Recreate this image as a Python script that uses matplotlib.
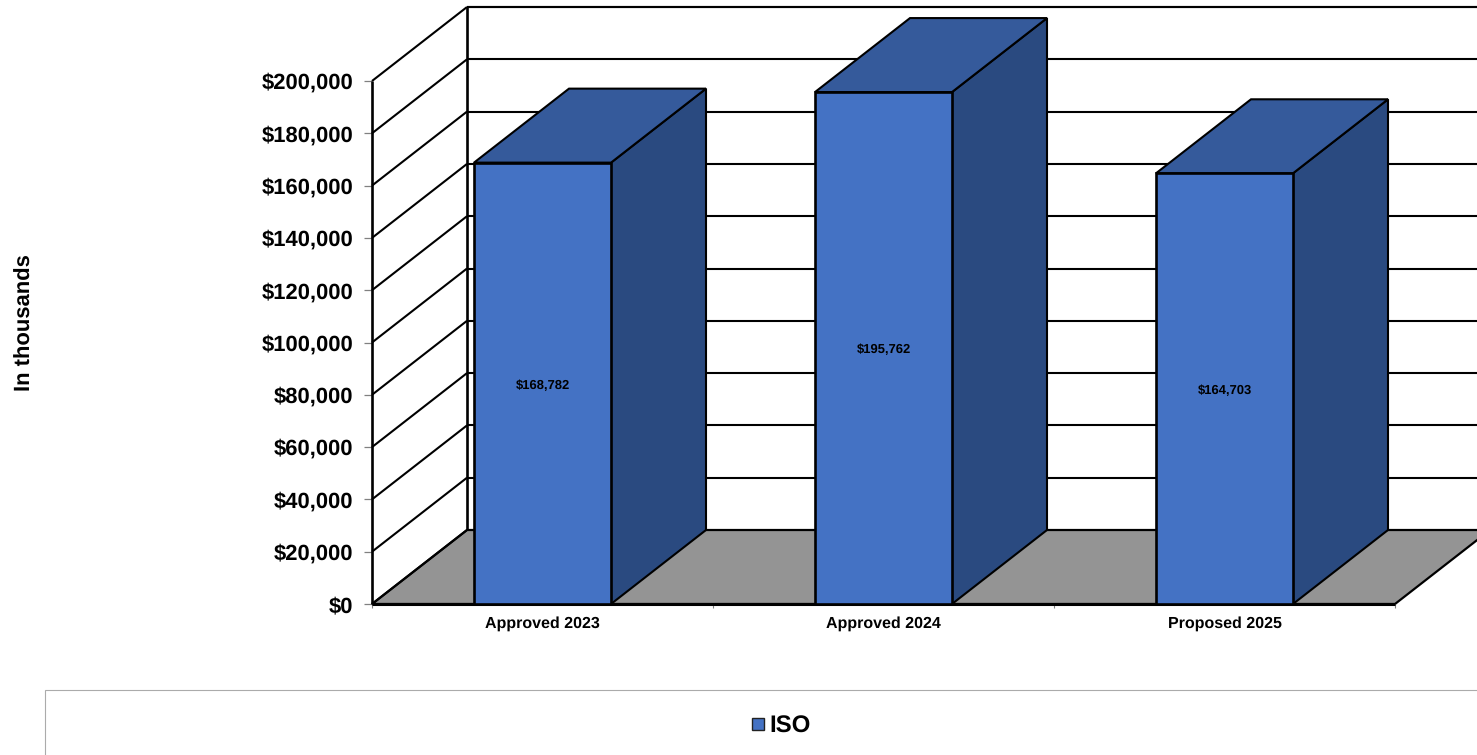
import matplotlib
matplotlib.use('Agg')
import matplotlib.pyplot as plt
from matplotlib.patches import Polygon, Rectangle

plt.rcParams['font.family'] = ['Liberation Sans', 'DejaVu Sans']
plt.rcParams['text.hinting'] = 'no_hinting'
plt.rcParams['text.hinting_factor'] = 1

categories = ['Approved 2023', 'Approved 2024', 'Proposed 2025']
values = [168782, 195762, 164703]
value_labels = ['$168,782', '$195,762', '$164,703']
y_ticks = [0, 20000, 40000, 60000, 80000, 100000, 120000, 140000, 160000, 180000, 200000]
series_name = 'ISO'

W, H = 1477, 755
FRONT = '#4472C4'
SIDE = '#2A4A80'
TOP = '#355A9B'
FLOOR = '#949494'

fig = plt.figure(figsize=(W / 100, H / 100), dpi=100)
# plot area in pixels: x 372..1395, y 81..604
ax = fig.add_axes([372 / W, 1 - 604 / H, (1395 - 372) / W, (604 - 81) / H])
ax.set_xlim(0, 3)
ax.set_ylim(0, 200000)
for s in ax.spines.values():
    s.set_visible(False)

# depth of the fake 3d box, in data units
dx = 95 / (1023 / 3)
dy = 74 / 523 * 200000
# the back wall runs off the right side of the figure
right = (1490 - 372) / (1023 / 3)
bar_w = 137 / (1023 / 3)
lw = 1.5


def poly(pts, fc, z, ec='black', w=lw):
    ax.add_patch(Polygon(pts, closed=True, facecolor=fc, edgecolor=ec, linewidth=w,
                         joinstyle='miter', clip_on=False, zorder=z))


def line(xs, ys, z=2, w=lw):
    ax.plot(xs, ys, color='black', linewidth=w, clip_on=False, zorder=z,
            solid_capstyle='butt')


# floor
poly([(0, 0), (3, 0), (3 + dx, dy), (dx, dy)], FLOOR, 1, w=1.6)

# wall grid, left diagonal then along the back
for t in y_ticks[1:]:
    line([0, dx], [t, t + dy])
    line([dx, right], [t + dy, t + dy])
line([0, dx], [0, dy])

# axis lines
line([0, 0], [0, 200000], z=3, w=1.9)
line([dx, dx], [dy, 200000 + dy], z=3, w=1.9)
line([dx, right], [200000 + dy, 200000 + dy])
line([0, 3], [0, 0], z=3, w=2.2)

# bars
for i, (v, lab) in enumerate(zip(values, value_labels)):
    x0 = i + 0.5 - bar_w / 2
    x1 = x0 + bar_w
    poly([(x1, 0), (x1 + dx, dy), (x1 + dx, v + dy), (x1, v)], SIDE, 4)
    poly([(x0, v), (x1, v), (x1 + dx, v + dy), (x0 + dx, v + dy)], TOP, 4)
    poly([(x0, 0), (x1, 0), (x1, v), (x0, v)], FRONT, 5, w=1.9)
    ax.annotate(lab, (i + 0.5, v / 2), xytext=(0, -1.5), textcoords='offset points',
                ha='center', va='center', fontsize=9, fontweight='bold', color='black', zorder=6)

ax.set_yticks(y_ticks)
ax.set_yticklabels(['${:,}'.format(t) for t in y_ticks], fontsize=15.9, fontweight='bold')
ax.set_xticks([0, 1, 2, 3])
ax.set_xticklabels([])
ax.set_xticks([0.5, 1.5, 2.5], minor=True)
ax.set_xticklabels(categories, minor=True, fontsize=11.8, fontweight='bold')
ax.tick_params(axis='x', which='minor', length=0, pad=8.5)
ax.tick_params(axis='x', which='major', length=3, width=0.8, color='#808080')
ax.tick_params(axis='y', length=6, width=0.9, color='#808080', pad=7.5)

fig.text(25 / W, 1 - 323 / H, 'In thousands', rotation=90, ha='center', va='center',
         fontsize=15.9, fontweight='bold')

# legend box, open past the figure edge
fig.add_artist(Rectangle((45 / W, 1 - 790 / H), 1500 / W, 100 / H, transform=fig.transFigure,
                         facecolor='white', edgecolor='#ABABAB', linewidth=0.8))
fig.add_artist(Rectangle((752 / W, 1 - 730 / H), 12 / W, 12 / H, transform=fig.transFigure,
                         facecolor=FRONT, edgecolor='#222222', linewidth=1.0))
fig.text(769 / W, 1 - 727 / H, series_name, ha='left', va='center', fontsize=17, fontweight='bold')

fig.savefig('out.png', dpi=100)
